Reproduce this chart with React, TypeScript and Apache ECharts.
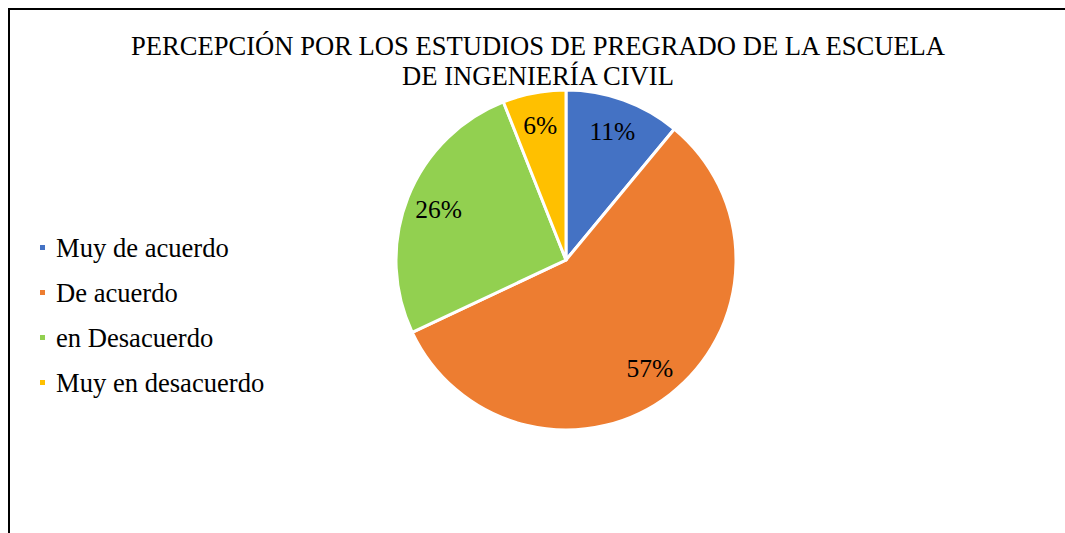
import React, { useEffect, useRef } from "react";
import * as echarts from "echarts";

const titleLines = [
  "PERCEPCIÓN POR LOS ESTUDIOS DE PREGRADO DE LA ESCUELA",
  "DE INGENIERÍA CIVIL",
];
const categories = ["Muy de acuerdo", "De acuerdo", "en Desacuerdo", "Muy en desacuerdo"];
const values = [11, 57, 26, 6];
const colors = ["#4472C4", "#ED7D31", "#92D050", "#FFC000"];

const FONT = '"Times New Roman", "Liberation Serif", "DejaVu Serif", serif';

export default function App() {
  const ref = useRef<HTMLDivElement>(null);
  useEffect(() => {
    document.documentElement.style.overflow = "hidden";
    document.body.style.overflow = "hidden";
    if (!ref.current) return;
    const chart = echarts.init(ref.current, null, { renderer: "svg" });
    const data = categories.map((name, i) => ({
      name,
      value: values[i],
      itemStyle: { color: colors[i] },
    }));
    chart.setOption({
      animation: false,
      backgroundColor: "#fff",
      textStyle: { fontFamily: FONT },
      title: {
        text: titleLines.join("\n"),
        left: 523,
        textAlign: "center",
        top: 16,
        textStyle: {
          fontFamily: FONT,
          fontSize: 26.6,
          fontWeight: "normal",
          color: "#000",
          lineHeight: 30,
        },
      },
      legend: {
        orient: "vertical",
        left: 23,
        top: 219,
        itemWidth: 7,
        itemHeight: 7,
        itemGap: 18,
        icon: "rect",
        data: categories,
        textStyle: {
          fontFamily: FONT,
          fontSize: 26.6,
          color: "#000",
          padding: [0, 0, 0, 5],
        },
      },
      series: [
        {
          type: "pie",
          center: [556, 250],
          radius: [0, 170],
          startAngle: 90,
          clockwise: true,
          label: { show: false },
          labelLine: { show: false },
          emphasis: { disabled: true },
          itemStyle: { borderColor: "#fff", borderWidth: 3 },
          data,
        },
        {
          type: "pie",
          center: [556, 250],
          radius: [98, 170],
          startAngle: 90,
          clockwise: true,
          silent: true,
          legendHoverLink: false,
          label: {
            show: true,
            position: "inside",
            formatter: (p: any) => `${p.value}%`,
            fontFamily: FONT,
            fontSize: 25.5,
            color: "#000",
          },
          labelLine: { show: false },
          emphasis: { disabled: true },
          itemStyle: { color: "rgba(0,0,0,0)", borderWidth: 0 },
          data: categories.map((name, i) => ({ name, value: values[i] })),
        },
      ],
    });
    return () => chart.dispose();
  }, []);
  return (
    <div
      style={{
        position: "fixed",
        left: 8,
        top: 8,
        width: 1080,
        height: 540,
        borderTop: "2px solid #000",
        borderLeft: "2px solid #000",
        boxSizing: "border-box",
        background: "#fff",
      }}
    >
      <div ref={ref} style={{ width: 1068, height: 528 }} />
    </div>
  );
}
